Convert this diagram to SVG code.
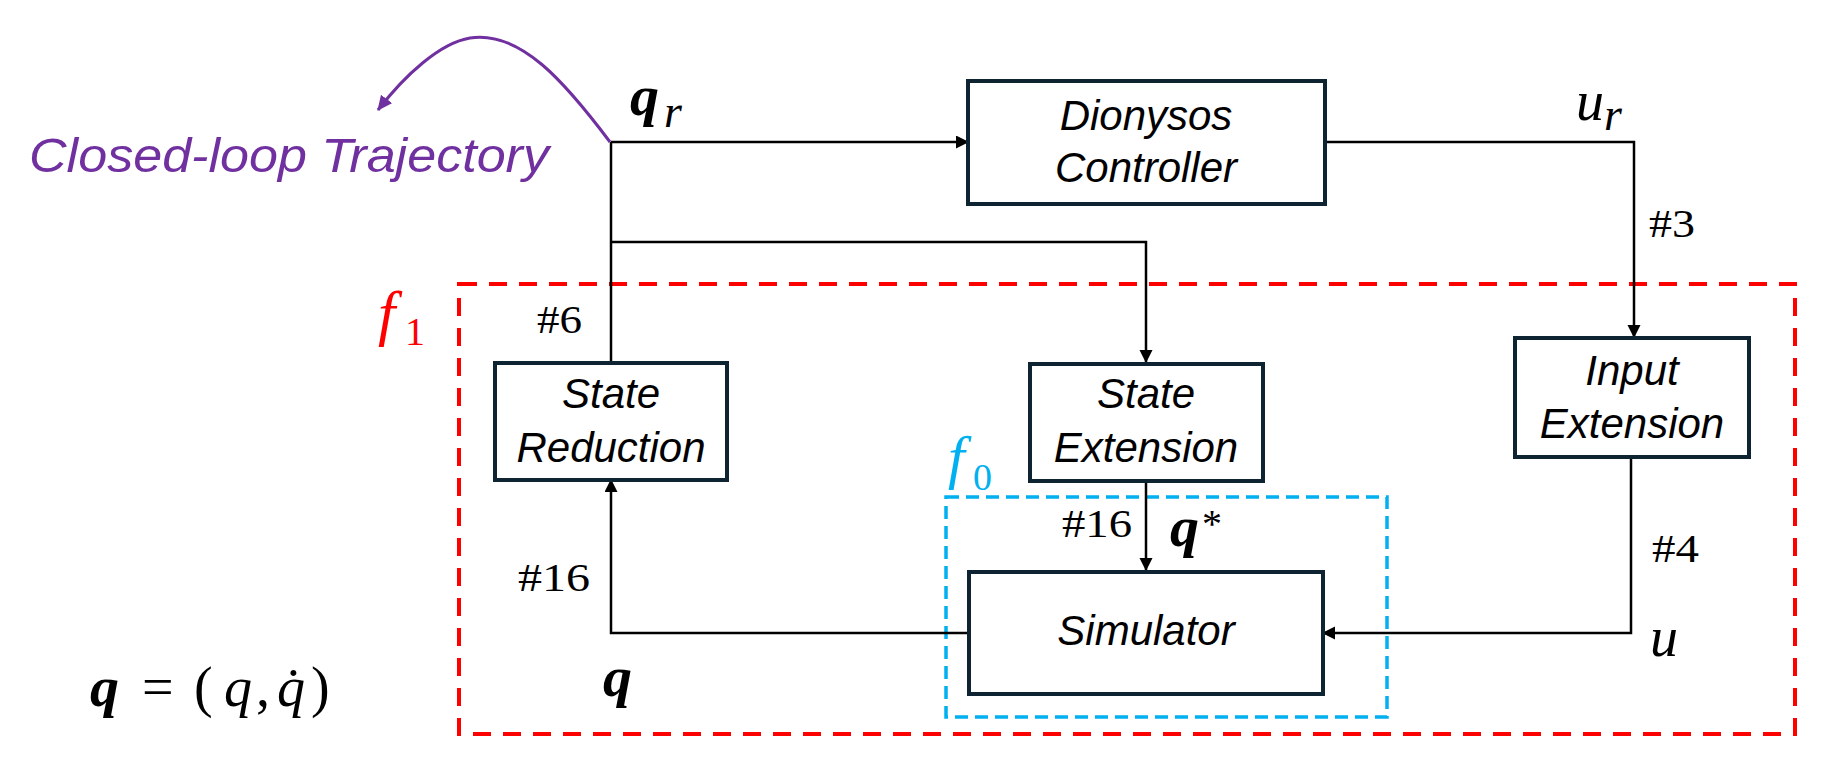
<svg xmlns="http://www.w3.org/2000/svg" width="1831" height="778" viewBox="0 0 1831 778">
<style>
.box{fill:#ffffff;stroke:#0e2433;stroke-width:4}
.lbl{font-family:"Liberation Sans",Arial,sans-serif;font-style:italic;font-size:42px;fill:#000;text-anchor:middle}
.wire{fill:none;stroke:#000;stroke-width:2.5}
.num{font-family:"Liberation Serif","Times New Roman",serif;font-size:41px;fill:#000}
.mb{font-family:"Liberation Serif","Times New Roman",serif;font-style:italic;font-weight:bold;font-size:58px;fill:#000}
.mi{font-family:"Liberation Serif","Times New Roman",serif;font-style:italic;font-size:56px;fill:#000}
.mr{font-family:"Liberation Serif","Times New Roman",serif;font-size:56px;fill:#000}
.red{fill:#ff0000}
.blue{fill:#00b0f0}
</style>
<defs>
<marker id="ah" markerUnits="userSpaceOnUse" markerWidth="14" markerHeight="14" refX="12" refY="6.5" orient="auto">
<path d="M0,0 L13,6.5 L0,13 z" fill="#000"/>
</marker>
<marker id="ahp" markerUnits="userSpaceOnUse" markerWidth="18" markerHeight="18" refX="14" refY="7" orient="auto">
<path d="M0,0 L15,7 L0,14 z" fill="#7030a0"/>
</marker>
</defs>
<rect width="1831" height="778" fill="#ffffff"/>

<g id="regions">
<rect id="f1-region" x="459" y="284" width="1336" height="450" fill="none" stroke="#ff0000" stroke-width="4" stroke-dasharray="18 12"/>
<rect id="f0-region" x="946" y="497" width="441" height="220" fill="none" stroke="#00b0f0" stroke-width="3.5" stroke-dasharray="13 7"/>
</g>

<g id="connectors">
<path class="wire" d="M611,142 H968" marker-end="url(#ah)"/>
<path class="wire" d="M611,363 V142"/>
<path class="wire" d="M611,242 H1146 V362" marker-end="url(#ah)"/>
<path class="wire" d="M1325,142 H1634 V337" marker-end="url(#ah)"/>
<path class="wire" d="M1631,457 V633 H1323" marker-end="url(#ah)"/>
<path class="wire" d="M1146,481 V570" marker-end="url(#ah)"/>
<path class="wire" d="M969,633 H611 V480" marker-end="url(#ah)"/>
<path fill="none" stroke="#7030a0" stroke-width="3" d="M610,142 C565,82 520,30 470,38 C440,43 405,75 378,110" marker-end="url(#ahp)"/>
</g>

<g id="node-controller">
<rect class="box" x="968" y="81" width="357" height="123"/>
<text class="lbl" x="1146" y="130">Dionysos</text>
<text class="lbl" x="1146" y="182">Controller</text>
</g>
<g id="node-state-reduction">
<rect class="box" x="495" y="363" width="232" height="117"/>
<text class="lbl" x="611" y="408">State</text>
<text class="lbl" x="611" y="462">Reduction</text>
</g>
<g id="node-state-extension">
<rect class="box" x="1030" y="364" width="233" height="117"/>
<text class="lbl" x="1146" y="408">State</text>
<text class="lbl" x="1146" y="462">Extension</text>
</g>
<g id="node-input-extension">
<rect class="box" x="1515" y="338" width="234" height="119"/>
<text class="lbl" x="1632" y="385">Input</text>
<text class="lbl" x="1632" y="438">Extension</text>
</g>
<g id="node-simulator">
<rect class="box" x="969" y="572" width="354" height="122"/>
<text class="lbl" x="1146" y="645">Simulator</text>
</g>

<g id="labels">
<text x="29" y="172" font-family="Liberation Sans,Arial,sans-serif" font-style="italic" font-size="49" fill="#7030a0" textLength="520" lengthAdjust="spacingAndGlyphs">Closed-loop Trajectory</text>
<text class="mb" x="630" y="115">q</text>
<text class="mi" x="664" y="127" style="font-size:46px">r</text>
<text class="mi" x="1576" y="120">u</text>
<text class="mi" x="1604" y="130" style="font-size:46px">r</text>
<text class="num" x="1649" y="237" textLength="46" lengthAdjust="spacingAndGlyphs">#3</text>
<text class="num" x="537" y="333" textLength="45" lengthAdjust="spacingAndGlyphs">#6</text>
<text class="num" x="1062" y="537" textLength="70" lengthAdjust="spacingAndGlyphs">#16</text>
<text class="num" x="518" y="591" textLength="72" lengthAdjust="spacingAndGlyphs">#16</text>
<text class="num" x="1652" y="562" textLength="47" lengthAdjust="spacingAndGlyphs">#4</text>
<text class="mb" x="1170" y="546">q</text>
<text class="mr" x="1202" y="537" style="font-size:40px">*</text>
<text class="mb" x="603" y="696">q</text>
<text class="mi" x="1650" y="656">u</text>
<text class="mi red" x="378" y="334" style="font-size:62px">f</text>
<text class="mr red" x="405" y="345" style="font-size:40px">1</text>
<text class="mi blue" x="948" y="477" style="font-size:60px">f</text>
<text class="mr blue" x="973" y="490" style="font-size:38px">0</text>
<text class="mb" x="90" y="706">q</text>
<text class="mr" x="142" y="706">=</text>
<text class="mr" x="194" y="706">(</text>
<text class="mi" x="224" y="706">q</text>
<text class="mr" x="256" y="706">,</text>
<text class="mi" x="277" y="706">q&#x307;</text>
<text class="mr" x="311" y="706">)</text>
</g>
</svg>
